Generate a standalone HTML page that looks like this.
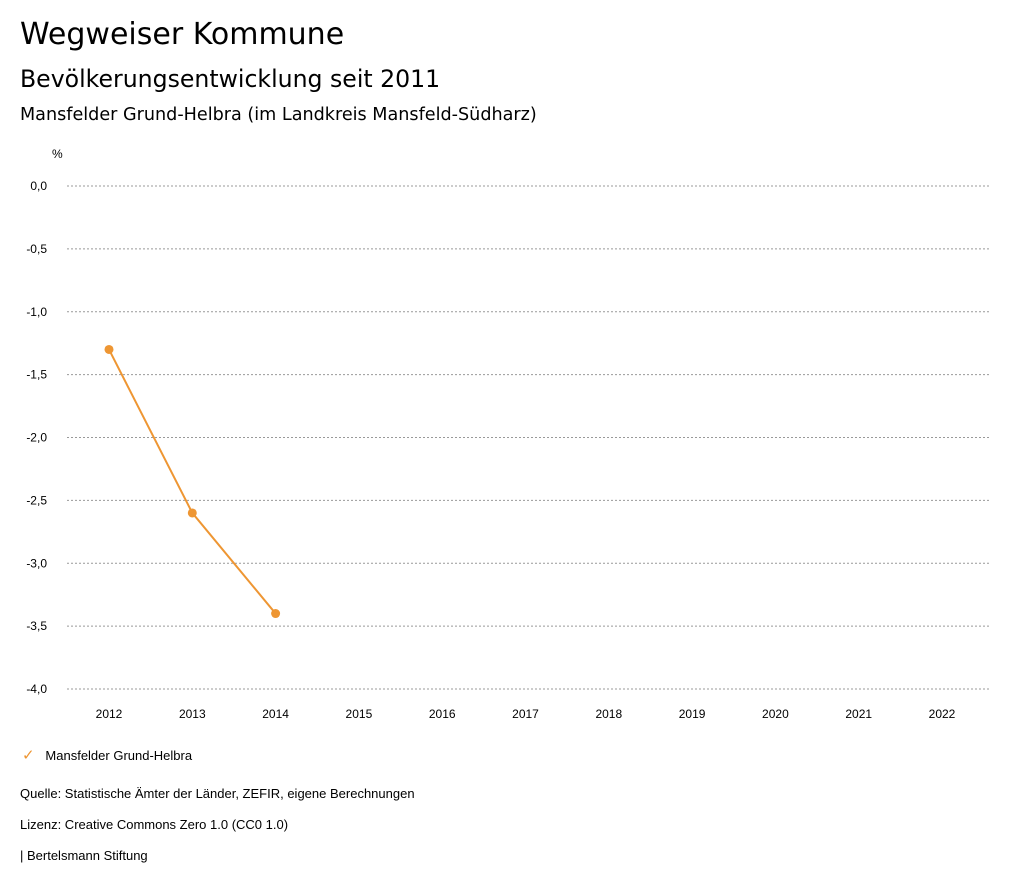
<!DOCTYPE html>
<html><head><meta charset="utf-8">
<style>
body{margin:0;width:1024px;height:888px;background:#fff;font-family:"Liberation Sans",sans-serif;color:#000;position:relative;overflow:hidden}
.t{position:absolute;white-space:nowrap}
.d{font-family:"DejaVu Sans",sans-serif}
</style></head><body>
<div class="t d" style="left:20px;top:17px;font-size:30px">Wegweiser Kommune</div>
<div class="t d" style="left:20px;top:65px;font-size:23.6px">Bevölkerungsentwicklung seit 2011</div>
<div class="t d" style="left:20px;top:105px;font-size:17.6px">Mansfelder Grund-Helbra (im Landkreis Mansfeld-Südharz)</div>
<svg id="chart" width="1024" height="740" style="position:absolute;left:0;top:0"></svg>
<div class="t" style="left:20px;top:786px;font-size:13px">Quelle: Statistische Ämter der Länder, ZEFIR, eigene Berechnungen</div>
<div class="t" style="left:20px;top:817px;font-size:13px">Lizenz: Creative Commons Zero 1.0 (CC0 1.0)</div>
<div class="t" style="left:20px;top:848px;font-size:13px">| Bertelsmann Stiftung</div>
<div class="t" style="left:22px;top:746px;font-size:13px"><span style="color:#ee9633;font-size:15px">✓</span>&nbsp;&nbsp;&nbsp;Mansfelder Grund-Helbra</div>
<script>
const years=[2012,2013,2014,2015,2016,2017,2018,2019,2020,2021,2022];
const values=[-1.3,-2.6,-3.4];
const yTicks=[0,-0.5,-1,-1.5,-2,-2.5,-3,-3.5,-4];
const yTickLabels=["0,0","-0,5","-1,0","-1,5","-2,0","-2,5","-3,0","-3,5","-4,0"];
const NS="http://www.w3.org/2000/svg";
const svg=document.getElementById('chart');
const y=v=>186+(0-v)/4*503;
const x=i=>109+i*83.3;
function mk(tag,attrs){const e=document.createElementNS(NS,tag);for(const k in attrs)e.setAttribute(k,attrs[k]);svg.appendChild(e);return e;}
const u=mk('text',{x:52,y:158,'font-size':12,fill:'#000'});u.textContent='%';


yTicks.forEach((v,i)=>{
 const l=mk('line',{x1:67,x2:990,y1:y(v),y2:y(v),stroke:'#999','stroke-dasharray':'2,2','stroke-width':1});
 
 
 const t=mk('text',{x:47,y:y(v)+4,'font-size':12,'text-anchor':'end'});t.textContent=yTickLabels[i];
 
 
});
years.forEach((yr,i)=>{
 const t=mk('text',{x:x(i),y:718,'font-size':12,'text-anchor':'middle'});t.textContent=yr;
 
 
});
const p=mk('polyline',{points:values.map((v,i)=>x(i)+','+y(v)).join(' '),fill:'none',stroke:'#ee9633','stroke-width':2});


values.forEach((v,i)=>{
 const c=mk('circle',{cx:x(i),cy:y(v),r:4.5,fill:'#ee9633'});
 
 
});
</script>
</body></html>
